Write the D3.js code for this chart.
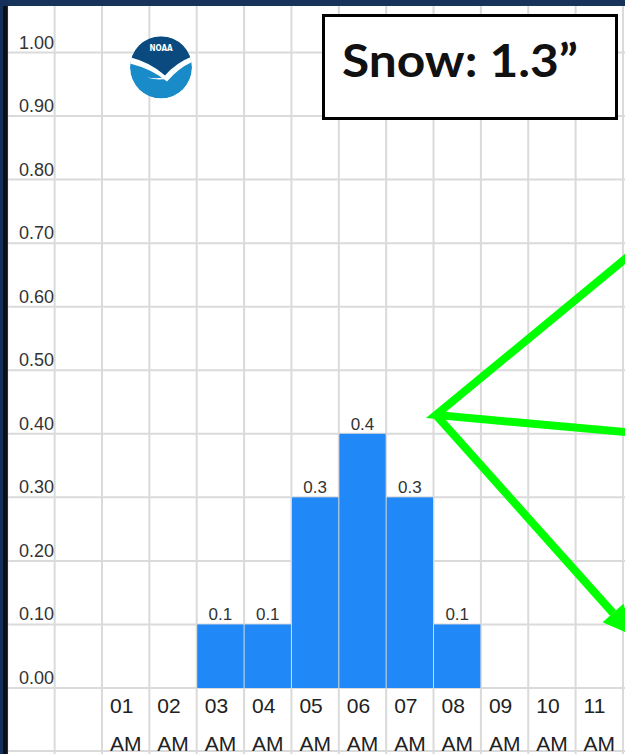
<!DOCTYPE html>
<html>
<head>
<meta charset="utf-8">
<script src="https://cdn.jsdelivr.net/npm/d3@7"></script>
<style>
  html, body { margin: 0; padding: 0; background: #fff; }
  svg { display: block; }
</style>
</head>
<body>
<script>
// Hourly snowfall amounts (inches)
const hours = ["01", "02", "03", "04", "05", "06", "07", "08", "09", "10", "11"];
const period = "AM";
const snowfall = [0, 0, 0.1, 0.1, 0.3, 0.4, 0.3, 0.1, 0, 0, 0];
const yTicks = [0, 0.1, 0.2, 0.3, 0.4, 0.5, 0.6, 0.7, 0.8, 0.9, 1.0];
const totalLabel = "Snow: 1.3\u201D";

const W = 625, H = 754;
const svg = d3.select("body").append("svg").attr("width", W).attr("height", H);

const x = d3.scaleBand().domain(hours).range([102, 102 + hours.length * 47.36]);
const y = d3.scaleLinear().domain([0, 1]).range([688, 52.5]);
const step = x.step();

// background
svg.append("rect").attr("width", W).attr("height", H).attr("fill", "#fff");

// grid
const grid = svg.append("g").attr("stroke", "#dadada").attr("stroke-width", 2);
const vx = d3.range(-2, hours.length + 1).map(k => x.range()[0] + k * step);
grid.selectAll("line.v").data(vx).join("line")
  .attr("x1", d => d).attr("x2", d => d).attr("y1", 0).attr("y2", H);
grid.selectAll("line.h").data(yTicks).join("line")
  .attr("x1", 0).attr("x2", W).attr("y1", d => y(d)).attr("y2", d => y(d));
grid.append("line").attr("x1", 0).attr("x2", W).attr("y1", 751).attr("y2", 751);

// y-axis labels sit above their gridline
svg.append("g").selectAll("text").data(yTicks).join("text")
  .attr("x", 19).attr("y", d => y(d) - 4)
  .attr("font-family", "Liberation Sans, Arial, sans-serif")
  .attr("font-size", 18).attr("fill", "#333")
  .text(d => d3.format(".2f")(d));

// bars
const data = hours.map((h, i) => ({ h, v: snowfall[i] }));
svg.append("g").selectAll("rect").data(data.filter(d => d.v > 0)).join("rect")
  .attr("x", d => x(d.h) + 0.5).attr("width", step - 1)
  .attr("y", d => y(d.v)).attr("height", d => y(0) - y(d.v))
  .attr("fill", "#2189f7");

// value labels
svg.append("g").selectAll("text").data(data.filter(d => d.v > 0)).join("text")
  .attr("x", d => x(d.h) + step / 2).attr("y", d => y(d.v) - 4)
  .attr("text-anchor", "middle")
  .attr("font-family", "Liberation Sans, Arial, sans-serif")
  .attr("font-size", 17).attr("fill", "#333")
  .text(d => d.v);

// hour labels (two lines)
const xl = svg.append("g")
  .attr("font-family", "Liberation Sans, Arial, sans-serif")
  .attr("font-size", 21).attr("fill", "#222");
xl.selectAll("text.hr").data(hours).join("text")
  .attr("x", d => x(d) + 8).attr("y", 713).text(d => d);
xl.selectAll("text.ap").data(hours).join("text")
  .attr("x", d => x(d) + 8).attr("y", 751).text(period);

// frame
svg.append("rect").attr("x", 0).attr("y", 0).attr("width", W).attr("height", 6).attr("fill", "#17335a");
svg.append("rect").attr("x", 0).attr("y", 0).attr("width", 8).attr("height", H).attr("fill", "#14305a");
svg.append("rect").attr("x", 3).attr("y", 6).attr("width", 4).attr("height", H).attr("fill", "#0a0f18");

// NOAA emblem
const lg = svg.append("g");
const cx = 161, cy = 67.5, r = 31;
lg.append("clipPath").attr("id", "emb").append("circle").attr("cx", cx).attr("cy", cy).attr("r", r);
const e = lg.append("g").attr("clip-path", "url(#emb)");
e.append("circle").attr("cx", cx).attr("cy", cy).attr("r", r).attr("fill", "#1a8bc9");
e.append("path").attr("fill", "#0b4a7f")
  .attr("d", `M${cx - 40},${cy - 40} L${cx + 40},${cy - 40} L${cx + 40},${cy - 14} Q${cx + 18},${cy - 8} ${cx + 4},${cy + 8} Q${cx - 14},${cy - 8} ${cx - 40},${cy - 12} Z`);
e.append("path").attr("fill", "#fff")
  .attr("d", `M${cx - 40},${cy - 12} Q${cx - 14},${cy - 8} ${cx + 4},${cy + 8} Q${cx + 18},${cy - 8} ${cx + 40},${cy - 14} L${cx + 40},${cy - 9} Q${cx + 20},${cy - 3} ${cx + 6},${cy + 14} Q${cx - 12},${cy - 1} ${cx - 40},${cy - 6} Z`);
e.append("path").attr("fill", "#fff")
  .attr("d", `M${cx - 14},${cy + 10} Q${cx},${cy + 12} ${cx + 12},${cy + 8} Q${cx + 2},${cy + 15} ${cx - 14},${cy + 10} Z`);
lg.append("text").attr("x", cx).attr("y", cy - 17).attr("text-anchor", "middle")
  .attr("font-family", "DejaVu Sans Condensed, DejaVu Sans, sans-serif").attr("font-weight", "bold")
  .attr("font-size", 8).attr("fill", "#fff").text("NOAA");

// total snowfall callout
svg.append("rect").attr("x", 323.5).attr("y", 15.5).attr("width", 293).attr("height", 103)
  .attr("fill", "#fff").attr("stroke", "#000").attr("stroke-width", 3);
svg.append("text").attr("x", 342).attr("y", 77)
  .attr("font-family", "Lato, Open Sans, sans-serif").attr("font-weight", "bold")
  .attr("font-size", 46).attr("fill", "#111")
  .attr("textLength", 236).attr("lengthAdjust", "spacingAndGlyphs")
  .text(totalLabel);

// green pointer lines
const apex = [436, 415];
const green = svg.append("g").attr("stroke", "#00ff00").attr("stroke-width", 8)
  .attr("stroke-linecap", "butt").attr("fill", "none");
const ext = (p, q, k) => [apex[0] + (q[0] - apex[0]) * k, apex[1] + (q[1] - apex[1]) * k];
const up = ext(apex, [625, 259], 1.3);
const mid = ext(apex, [625, 432], 1.3);
green.append("path").attr("stroke-linejoin", "miter")
  .attr("d", `M${up[0]},${up[1]} L${apex[0]},${apex[1]} L${mid[0]},${mid[1]}`);
// arrow toward the bottom right
const base = [613, 613];
const dx = base[0] - apex[0], dy = base[1] - apex[1], len = Math.hypot(dx, dy);
const ux = dx / len, uy = dy / len, px = -uy, py = ux;
green.append("line").attr("x1", apex[0]).attr("y1", apex[1]).attr("x2", base[0]).attr("y2", base[1]);
svg.append("path").attr("fill", "#00ff00")
  .attr("d", `M${base[0] + 14 * px},${base[1] + 14 * py} L${base[0] + 30 * ux},${base[1] + 30 * uy} L${base[0] - 14 * px},${base[1] - 14 * py} Z`);
</script>
</body>
</html>
